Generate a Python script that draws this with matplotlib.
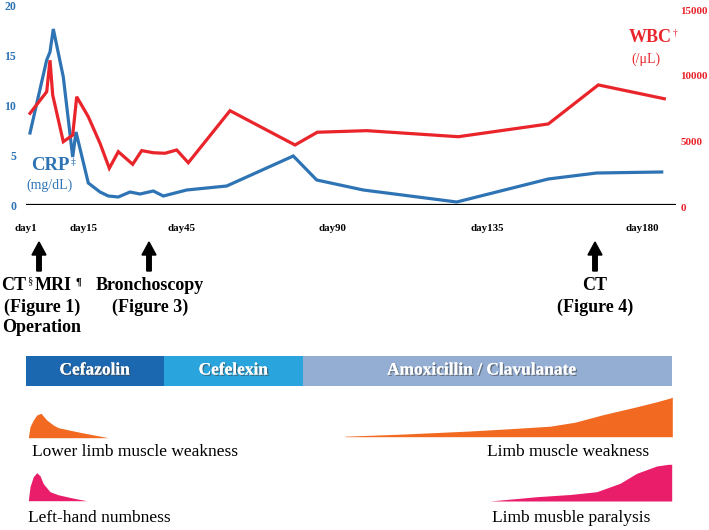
import matplotlib
matplotlib.use("Agg")
import matplotlib.pyplot as plt
import matplotlib.patheffects as pe

plt.rcParams["font.family"] = ["Liberation Serif", "DejaVu Serif"]
plt.rcParams["mathtext.fontset"] = "custom"
plt.rcParams["mathtext.rm"] = "Liberation Serif"
plt.rcParams["mathtext.bf"] = "Liberation Serif:bold"

# ── Data (x = timeline position, the day axis is not linear) ────────────────
day_labels = ["day1", "day15", "day45", "day90", "day135", "day180"]
day_pos = [26, 83.5, 181.7, 332.5, 487, 642]

crp_pos = [30, 46.7, 50, 53.3, 63.3, 72.7, 76, 88.3, 100, 108.3, 118.3, 130,
           140, 153.3, 163.3, 186.7, 226.7, 293.3, 316.7, 363.3, 456.7, 548.3,
           596.7, 661.7]
crp_val = [7.2, 14.5, 15.3, 17.6, 12.8, 4.8, 7.3, 2.2, 1.3, 0.9, 0.8, 1.3,
           1.1, 1.4, 0.9, 1.5, 1.9, 4.9, 2.5, 1.5, 0.3, 2.6, 3.2, 3.3]

wbc_pos = [30, 46.7, 50, 52.7, 63.3, 72.7, 76.7, 88.3, 100, 109.3, 118.3,
           132.7, 141.7, 153.3, 165, 176.7, 188.3, 230, 295, 317.3, 366.7,
           458.3, 548.3, 598.3, 664.3]
wbc_val = [7160, 8800, 11200, 8550, 5000, 5500, 8420, 6900, 4880, 2980, 4240,
           3280, 4320, 4160, 4120, 4370, 3400, 7360, 4750, 5720, 5840, 5380,
           6350, 9320, 8270]

events = ["CT§ MRI ¶\n(Figure 1)\nOperation", "Bronchoscopy\n(Figure 3)",
          "CT\n(Figure 4)"]
event_pos = [39, 149, 595]

drugs = ["Cefazolin", "Cefelexin", "Amoxicillin / Clavulanate"]
drug_start = [25.7, 164, 303.3]
drug_end = [164, 303.3, 672.3]
drug_colors = ["#1b67b0", "#2aa4dd", "#93aed2"]

# symptom intensity profiles (position, relative height)
weak1_pos = [28.3, 30, 33.3, 36.7, 41, 46.7, 53.3, 58.3, 70, 80, 95, 108.3]
weak1_val = [0, 11, 17.7, 22.7, 24.4, 17.7, 12.7, 10, 7.5, 5.4, 2.5, 0]
weak2_pos = [345, 400, 470, 510, 550, 575, 603, 637, 655, 670, 672.3]
weak2_val = [0.5, 2.5, 5.7, 8, 10.5, 14.5, 22, 30, 34.5, 38.6, 39.6]
numb1_pos = [28.3, 30, 33.3, 36.7, 40, 43.3, 50, 58, 66.7, 76, 86.7]
numb1_val = [0, 14, 24, 28, 25, 17, 9, 6, 4, 2, 0]
para2_pos = [490, 536.7, 570, 596.7, 620, 636.7, 656.7, 668.3, 671.7]
para2_val = [0, 4.3, 6.5, 9.3, 17.7, 27.7, 35, 36.7, 36.7]

symptoms = ["Lower limb muscle weakness", "Limb muscle weakness",
            "Left-hand numbness", "Limb musble paralysis"]

BLUE = "#2e74b5"
RED = "#e9252b"
ORANGE = "#f26a21"
PINK = "#ea1d6a"

W, H = 709, 530
fig = plt.figure(figsize=(W / 100, H / 100), dpi=100)

# overlay axes in pixel units (x units match the timeline axes)
bg = fig.add_axes([0, 0, 1, 1])
bg.set_xlim(0, W)
bg.set_ylim(H, 0)
bg.axis("off")

X0, X1 = 26, 676


def rect(top, bottom):
    return [X0 / W, (H - bottom) / H, (X1 - X0) / W, (bottom - top) / H]


# ── CRP / WBC chart ──────────────────────────────────────────────────────────
ax = fig.add_axes(rect(5, 205))
ax.set_xlim(X0, X1)
ax.set_ylim(0, 20)
ax.plot(crp_pos, crp_val, color=BLUE, lw=2.3, zorder=4, solid_joinstyle="miter")
ax.axhline(0, color="black", lw=1.6, zorder=3)
ax.set_yticks([0, 5, 10, 15, 20])
ax.tick_params(axis="y", length=0, pad=7, labelcolor=BLUE, labelsize=8.5)
for t in ax.get_yticklabels():
    t.set_fontweight("bold")
ax.set_xticks(day_pos)
ax.set_xticklabels(day_labels, fontsize=7.8, fontweight="bold")
ax.tick_params(axis="x", length=0, pad=14)
for s in ax.spines.values():
    s.set_visible(False)
ax.patch.set_alpha(0)

ax2 = fig.add_axes(rect(10.3, 207.4))
ax2.set_xlim(X0, X1)
ax2.set_ylim(0, 15000)
ax2.plot(wbc_pos, wbc_val, color=RED, lw=2.3, zorder=4, solid_joinstyle="miter")
ax2.yaxis.tick_right()
ax2.set_yticks([0, 5000, 10000, 15000])
ax2.tick_params(axis="y", length=0, pad=3, labelcolor=RED, labelsize=8)
for t in ax2.get_yticklabels():
    t.set_fontweight("bold")
ax2.set_xticks([])
for s in ax2.spines.values():
    s.set_visible(False)
ax2.patch.set_alpha(0)

bg.text(50, 165, "CRP", color=BLUE, fontsize=13.5, fontweight="bold",
        ha="center", va="center")
bg.text(73, 163, "‡", color=BLUE, fontsize=7, ha="center", va="center",
        family=["DejaVu Serif"])
bg.text(49.5, 185, "(mg/dL)", color=BLUE, fontsize=10, ha="center", va="center")
bg.text(650, 38, "WBC", color=RED, fontsize=13, fontweight="bold",
        ha="center", va="center")
bg.text(675, 33, "†", color=RED, fontsize=7, ha="center", va="center")
bg.text(646, 59, "(/μL)", color=RED, fontsize=10, ha="center", va="center")

# ── Events ───────────────────────────────────────────────────────────────────
text_x = [42, 150, 595]
for label, x, tx in zip(events, event_pos, text_x):
    bg.arrow(x, 271, 0, -29, width=4.5, head_width=14, head_length=13,
             length_includes_head=True, color="black")
    for i, line in enumerate(label.split("\n")):
        y = 286 + i * 21
        if "§" in line:
            # first line with superscript marks, set piece by piece
            bg.text(14, y, "CT", fontsize=13, fontweight="bold",
                    ha="center", va="center")
            bg.text(30, y - 5, "§", fontsize=7.5, ha="center", va="center")
            bg.text(53, y, "MRI", fontsize=13, fontweight="bold",
                    ha="center", va="center")
            bg.text(78, y - 4, "¶", fontsize=7.5, fontweight="bold",
                    ha="center", va="center")
            continue
        bg.text(tx, y, line, fontsize=13, fontweight="bold",
                ha="center", va="center")

# ── Antibiotics ──────────────────────────────────────────────────────────────
shadow = [pe.withSimplePatchShadow(offset=(1, -1), shadow_rgbFace="#444",
                                   alpha=0.6), pe.Normal()]
for name, a, b, c in zip(drugs, drug_start, drug_end, drug_colors):
    bg.barh(371, b - a, left=a, height=30.5, color=c, edgecolor="none")
    bg.text((a + b) / 2 - (6 if b > 600 else 0), 370.5, name, color="white",
            fontsize=12.5, fontweight="bold", ha="center", va="center",
            path_effects=shadow)

# ── Symptoms ─────────────────────────────────────────────────────────────────
bg.fill_between(weak1_pos, 437.7, [437.7 - v for v in weak1_val],
                color=ORANGE, lw=0)
bg.fill_between(weak2_pos + [672.3], 436.7,
                [436.7 - v for v in weak2_val] + [436.7], color=ORANGE, lw=0)
bg.fill_between(numb1_pos, 500.7, [500.7 - v for v in numb1_val],
                color=PINK, lw=0)
bg.fill_between(para2_pos + [671.7], 501,
                [501 - v for v in para2_val] + [501], color=PINK, lw=0)

sym_x = [32, 649, 28, 650]
sym_y = [452, 452, 518, 518]
sym_ha = ["left", "right", "left", "right"]
for name, x, y, ha in zip(symptoms, sym_x, sym_y, sym_ha):
    bg.text(x, y, name, fontsize=12.5, ha=ha, va="center")

fig.savefig("out.png", dpi=100)
